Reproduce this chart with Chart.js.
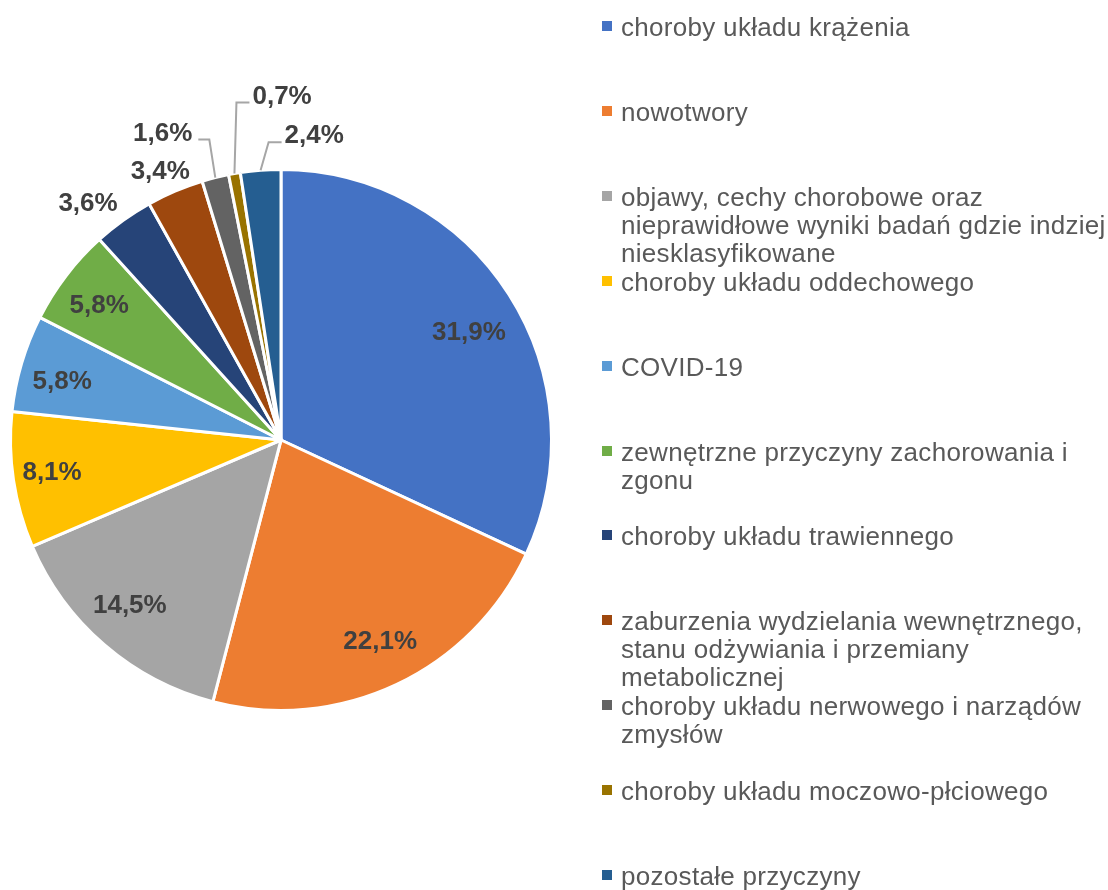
<!DOCTYPE html>
<html>
<head>
    <meta charset="utf-8">
    <title>Struktura zgonów według przyczyn</title>
    <script src="https://cdn.jsdelivr.net/npm/chart.js@4.4.0/dist/chart.umd.min.js"></script>
    <style>
        body { margin: 0; background: #fff; }
        #wrap { position: relative; width: 1108px; height: 890px; }
        #legenda { position: absolute; left: 0; top: 0; font-family: 'Liberation Sans', Arial, sans-serif; font-size: 26px; letter-spacing: 0.3px; color: #595959; }
        .poz { position: absolute; left: 621px; white-space: nowrap; line-height: 28px; }
        .kw { position: absolute; left: -19px; top: 8px; width: 10px; height: 10px; }
    </style>
</head>
<body>
<div id="wrap">
    <canvas id="wykres"></canvas>
    <div id="legenda"></div>
</div>
<script>
    // kategorie (linie tekstu legendy), wartości w %, kolory wycinków
    const kategorie = [
        ['choroby układu krążenia'],
        ['nowotwory'],
        ['objawy, cechy chorobowe oraz', 'nieprawidłowe wyniki badań gdzie indziej', 'niesklasyfikowane'],
        ['choroby układu oddechowego'],
        ['COVID-19'],
        ['zewnętrzne przyczyny zachorowania i', 'zgonu'],
        ['choroby układu trawiennego'],
        ['zaburzenia wydzielania wewnętrznego,', 'stanu odżywiania i przemiany', 'metabolicznej'],
        ['choroby układu nerwowego i narządów', 'zmysłów'],
        ['choroby układu moczowo-płciowego'],
        ['pozostałe przyczyny']
    ];
    const wartosci = [31.9, 22.1, 14.5, 8.1, 5.8, 5.8, 3.6, 3.4, 1.6, 0.7, 2.4];
    const kolory = ['#4472C4', '#ED7D31', '#A5A5A5', '#FFC000', '#5B9BD5', '#70AD47',
                    '#264478', '#9E480E', '#636363', '#997300', '#255E91'];

    // rozmieszczenie etykiet: r = ułamek promienia, da = przesunięcie kąta (stopnie),
    // leader = linia odniesienia (łamana) dla najmniejszych wycinków
    const etykietyPoz = [
        { r: 0.80, da: 2.8 }, { r: 0.833, da: -0.9 }, { r: 0.83, da: 1.6 },
        { r: 0.855, da: 0.4 }, { r: 0.837, da: -1.6 }, { r: 0.835, da: -1.0 },
        { r: 1.127, da: -3.6 }, { r: 1.086, da: -1.2 },
        { leader: [-6, -38, -11], align: 'right' },
        { leader: [2, -71, 13], align: 'left' },
        { leader: [8, -28, 13], align: 'left' }
    ];

    // legenda w HTML
    const leg = document.getElementById('legenda');
    kategorie.forEach((linie, i) => {
        const d = document.createElement('div');
        d.className = 'poz';
        d.style.top = (13 + 84.9 * i) + 'px';
        d.innerHTML = '<span class="kw" style="background:' + kolory[i] + '"></span>' + linie.join('<br>');
        leg.appendChild(d);
    });

    const etykiety = {
        id: 'etykiety',
        afterDatasetsDraw(chart) {
            const ctx = chart.ctx;
            const luki = chart.getDatasetMeta(0).data;
            ctx.save();
            ctx.font = 'bold 26px "Liberation Sans", Arial, sans-serif';
            ctx.fillStyle = '#404040';
            ctx.textBaseline = 'middle';
            luki.forEach((luk, i) => {
                const p = luk.getProps(['x', 'y', 'startAngle', 'endAngle', 'outerRadius'], true);
                const poz = etykietyPoz[i];
                const kat = (p.startAngle + p.endAngle) / 2 + (poz.da || 0) * Math.PI / 180;
                const tekst = wartosci[i].toFixed(1).replace('.', ',') + '%';
                if (poz.leader) {
                    const sx = p.x + Math.cos(kat) * p.outerRadius;
                    const sy = p.y + Math.sin(kat) * p.outerRadius;
                    const ex = sx + poz.leader[0], ey = sy + poz.leader[1];
                    const kx = ex + poz.leader[2];
                    ctx.strokeStyle = '#A6A6A6';
                    ctx.lineWidth = 2;
                    ctx.beginPath();
                    ctx.moveTo(sx, sy);
                    ctx.lineTo(ex, ey);
                    ctx.lineTo(kx, ey);
                    ctx.stroke();
                    ctx.textAlign = poz.align;
                    ctx.fillText(tekst, poz.align === 'left' ? kx + 3 : kx - 6, ey - 6);
                } else {
                    const x = p.x + Math.cos(kat) * p.outerRadius * poz.r;
                    const y = p.y + Math.sin(kat) * p.outerRadius * poz.r;
                    ctx.textAlign = 'center';
                    ctx.fillText(tekst, x, y);
                }
            });
            ctx.restore();
        }
    };

    new Chart(document.getElementById('wykres'), {
        type: 'pie',
        data: {
            labels: kategorie,
            datasets: [{
                data: wartosci,
                backgroundColor: kolory,
                borderColor: '#ffffff',
                borderWidth: 3
            }]
        },
        options: {
            responsive: true,
            maintainAspectRatio: false,
            animation: false,
            layout: { padding: { left: 9, top: 168, right: 555, bottom: 178 } },
            plugins: {
                legend: { display: false },
                tooltip: { enabled: false }
            }
        },
        plugins: [etykiety]
    });
</script>
</body>
</html>
